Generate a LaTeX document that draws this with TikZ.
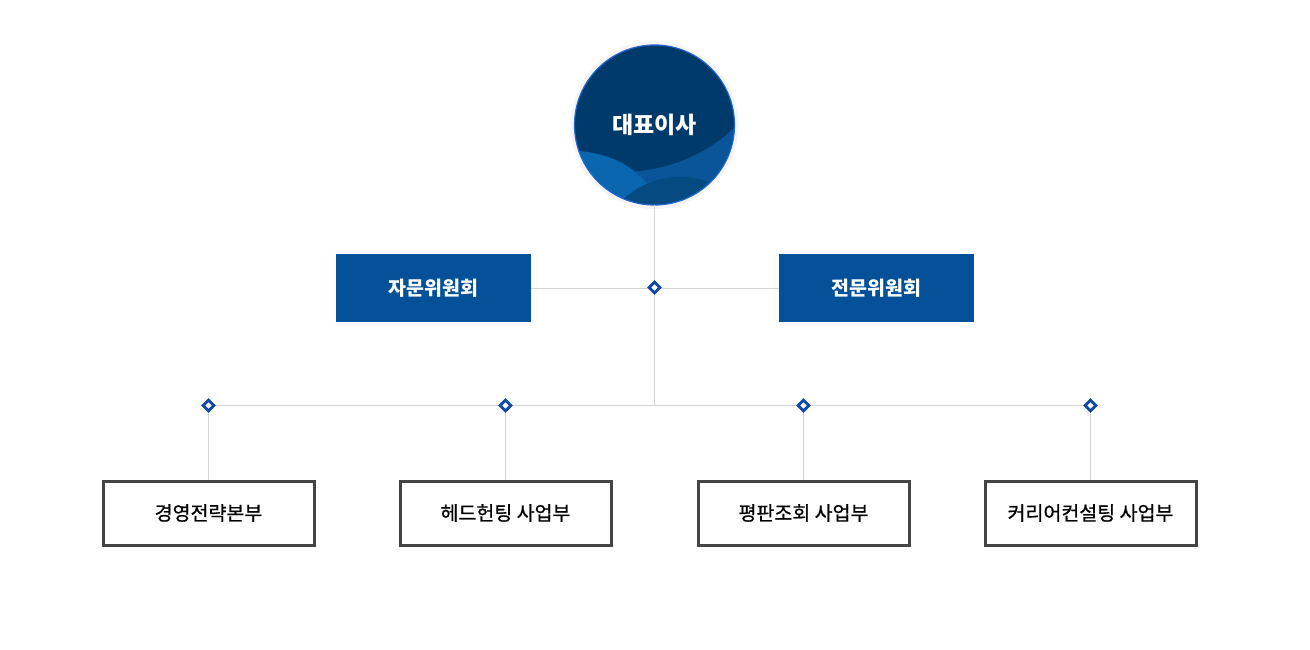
\documentclass[tikz,border=0pt]{standalone}
\usepackage{fontspec}
\setmainfont{Noto Sans CJK KR}
\newfontfamily\deptfont{Noto Sans CJK KR}[FakeBold=0.8]
\usetikzlibrary{shapes.geometric}
\definecolor{ceo}{HTML}{003A6B}
\definecolor{ceoedge}{HTML}{1E66D0}
\definecolor{wave1}{HTML}{0A5599}
\definecolor{wave2}{HTML}{0B66B0}
\definecolor{wave3}{HTML}{054A80}
\definecolor{comm}{HTML}{04519A}
\definecolor{conn}{HTML}{D4D4D4}
\definecolor{dia}{HTML}{1049A8}
\definecolor{boxedge}{HTML}{444444}
\begin{document}
\begin{tikzpicture}[x=1pt,y=-1pt,
  line/.style={draw=conn,line width=1pt},
  commbox/.style={rectangle,fill=comm,minimum width=195pt,minimum height=68pt,inner sep=0pt,text=white,font=\fontsize{19.5}{22}\selectfont\bfseries},
  deptbox/.style={rectangle,draw=boxedge,line width=3pt,fill=white,minimum width=211pt,minimum height=64pt,inner sep=0pt,text=black,font=\deptfont\fontsize{19.5}{22}\selectfont},
  marker/.style={diamond,draw=dia,line width=2.8pt,fill=white,minimum width=12pt,minimum height=12pt,inner sep=0pt}]
\useasboundingbox (0,0) rectangle (1310,650);
% CEO circle
\coordinate (cc) at (654.5,125);
\fill[black!4] (cc) circle (84);
\begin{scope}
\clip (cc) circle (80);
\fill[ceo] (cc) circle (80);
\fill[wave1] (560,158) .. controls (640,195) and (720,150) .. (740,120) -- (740,220) -- (560,220) -- cycle;
\fill[wave2] (560,150) .. controls (620,150) and (650,175) .. (665,215) -- (560,215) -- cycle;
\fill[wave3] (610,215) .. controls (640,170) and (700,165) .. (740,200) -- (740,220) -- (610,220) -- cycle;
\end{scope}
\draw[ceoedge,line width=1.2pt] (cc) circle (80);
\node[text=white,font=\fontsize{23}{26}\selectfont\bfseries] (ceo) at (cc) {대표이사};
\path (cc) ++(0,80) coordinate (ceob);
% committees
\node[commbox] (adv) at (433.5,288) {자문위원회};
\node[commbox] (exp) at (876.5,288) {전문위원회};
\coordinate (hub) at (654.5,287.5);
\coordinate (bus) at (654.5,405.5);
% depts
\node[deptbox] (d1) at (208.5,513) {경영전략본부};
\node[deptbox] (d2) at (505.5,513) {헤드헌팅 사업부};
\node[deptbox] (d3) at (803.5,513) {평판조회 사업부};
\node[deptbox] (d4) at (1090.5,513) {커리어컨설팅 사업부};
\coordinate (b1) at (208.5,405.5);
\coordinate (b2) at (505.5,405.5);
\coordinate (b3) at (803.5,405.5);
\coordinate (b4) at (1090.5,405.5);
% connectors
\draw[line] (ceob) -- (bus);
\draw[line] (adv.east) -- (exp.west);
\draw[line] (b1) -- (b4);
\draw[line] (b1) -- (d1.north);
\draw[line] (b2) -- (d2.north);
\draw[line] (b3) -- (d3.north);
\draw[line] (b4) -- (d4.north);
% markers
\node[marker] (m0) at (hub) {};
\node[marker] (m1) at (b1) {};
\node[marker] (m2) at (b2) {};
\node[marker] (m3) at (b3) {};
\node[marker] (m4) at (b4) {};
\end{tikzpicture}
\end{document}
